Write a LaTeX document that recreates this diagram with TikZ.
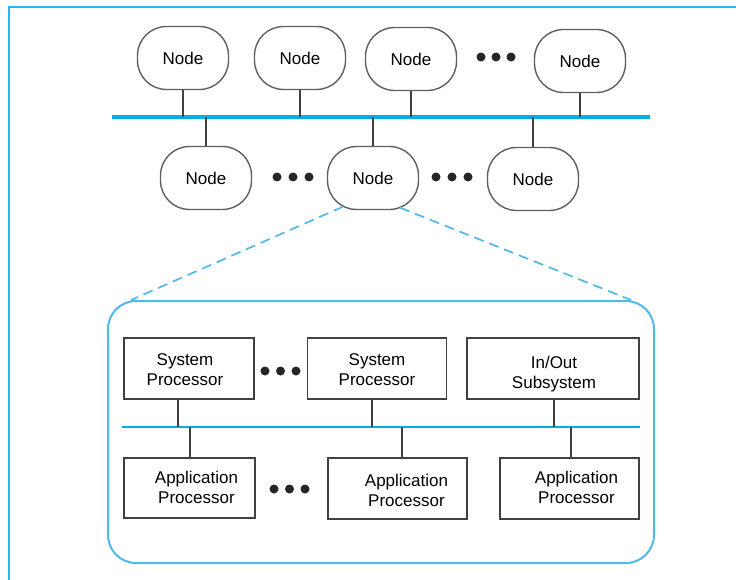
\documentclass[tikz,border=0pt]{standalone}
\usepackage{fontspec}
\setmainfont{Liberation Sans}
\usetikzlibrary{calc}
\definecolor{busblue}{RGB}{0,174,239}
\definecolor{frameblue}{RGB}{40,182,240}
\definecolor{lightblue}{RGB}{80,185,236}
\definecolor{nodegray}{RGB}{95,95,95}
\definecolor{boxgray}{RGB}{65,65,65}
\tikzset{
  netnode/.style={draw=nodegray, line width=1.4pt, rounded corners=29pt,
    minimum width=91pt, minimum height=63pt, inner sep=0pt, fill=white,
    font=\fontsize{17}{20}\selectfont},
  procbox/.style={draw=boxgray, line width=1.5pt, inner sep=0pt, fill=white},
  boxtxt/.style={font=\fontsize{17}{20}\selectfont, align=center, inner sep=0pt},
  dotnode/.style={circle, fill=black!85, minimum size=9pt, inner sep=0pt},
  link/.style={draw=boxgray, line width=1.6pt},
  mainbus/.style={draw=busblue, line width=3.4pt},
  innerbus/.style={draw=busblue, line width=2pt},
  framestyle/.style={draw=frameblue, line width=2pt},
  zoomline/.style={draw=lightblue, line width=1.7pt, dash pattern=on 10pt off 6pt},
  zoombox/.style={draw=lightblue, line width=2pt, rounded corners=28pt, inner sep=0pt}
}
\begin{document}
\begin{tikzpicture}[x=1pt,y=-1pt]
\useasboundingbox (0,0) rectangle (736,580);
% outer frame (top and left edges)
\coordinate (fc) at (9,7);
\draw[framestyle] (9,581) -- (fc) -- (737,7);

% main bus
\coordinate (busL) at (112,117);
\coordinate (busR) at (650,117);
\draw[mainbus] (busL) -- (busR);

% top row of nodes
\node[netnode] (n1) at (183,58) {Node};
\node[netnode] (n2) at (300,58) {Node};
\node[netnode] (n3) at (411,59) {Node};
\node[netnode] (n4) at (580,61) {Node};
\node[dotnode] (t1) at (481,57) {};
\node[dotnode] (t2) at (496,57) {};
\node[dotnode] (t3) at (511,57) {};

% bottom row of nodes
\node[netnode] (n5) at (206,178) {Node};
\node[netnode] (n6) at (373,178) {Node};
\node[netnode] (n7) at (533,179) {Node};
\node[dotnode] (m1) at (277,177) {};
\node[dotnode] (m2) at (293,177) {};
\node[dotnode] (m3) at (309,177) {};
\node[dotnode] (m4) at (436,177) {};
\node[dotnode] (m5) at (452,177) {};
\node[dotnode] (m6) at (468,177) {};

% node-to-bus links
\foreach \n in {n1,n2,n3,n4}{
  \draw[link] (\n.south) -- (\n.south |- busL);
}
\foreach \n in {n5,n6,n7}{
  \draw[link] (busL -| \n.north) -- (\n.north);
}

% zoomed box
\node[zoombox, minimum width=546pt, minimum height=262pt] (zoom) at (381,432) {};
\draw[zoomline] ([shift={(-30,-3.5)}]n6.south) -- ([xshift=24pt]zoom.north west);
\draw[zoomline] ([shift={(27,-2.5)}]n6.south) -- ([xshift=-24pt]zoom.north east);

% processors
\node[procbox, minimum width=130pt, minimum height=61pt,
  label={[boxtxt, shift={(-4pt,-1.5pt)}]center:{System\\Processor}}] (sp1) at (189,368.5) {};
\node[procbox, minimum width=139pt, minimum height=61pt,
  label={[boxtxt, shift={(0pt,-1.5pt)}]center:{System\\Processor}}] (sp2) at (377,368.5) {};
\node[procbox, minimum width=172pt, minimum height=61pt,
  label={[boxtxt, shift={(1pt,-5.5pt)}]center:{In/Out\\Subsystem}}] (io) at (553,368.5) {};
\node[procbox, minimum width=131pt, minimum height=60pt,
  label={[boxtxt, shift={(7pt,1pt)}]center:{Application\\Processor}}] (ap1) at (189.5,488) {};
\node[procbox, minimum width=139pt, minimum height=61pt,
  label={[boxtxt, shift={(9pt,-2pt)}]center:{Application\\Processor}}] (ap2) at (397.5,488.5) {};
\node[procbox, minimum width=139pt, minimum height=61pt,
  label={[boxtxt, shift={(7pt,1.5pt)}]center:{Application\\Processor}}] (ap3) at (569.5,488.5) {};
\node[dotnode] (s1) at (265,371) {};
\node[dotnode] (s2) at (280.5,371) {};
\node[dotnode] (s3) at (296,371) {};
\node[dotnode] (a1) at (274,489) {};
\node[dotnode] (a2) at (289.5,489) {};
\node[dotnode] (a3) at (305,489) {};

% inner bus
\coordinate (ibL) at (122,427);
\coordinate (ibR) at (640,427);
\draw[innerbus] (ibL) -- (ibR);

% processor links
\draw[link] ([xshift=-11pt]sp1.south) -- ([xshift=-11pt]sp1.south |- ibL);
\draw[link] ([xshift=-5pt]sp2.south) -- ([xshift=-5pt]sp2.south |- ibL);
\draw[link] ([xshift=1pt]io.south) -- ([xshift=1pt]io.south |- ibL);
\draw[link] ([xshift=0.5pt]ap1.north |- ibL) -- ([xshift=0.5pt]ap1.north);
\draw[link] ([xshift=4.5pt]ap2.north |- ibL) -- ([xshift=4.5pt]ap2.north);
\draw[link] ([xshift=1.5pt]ap3.north |- ibL) -- ([xshift=1.5pt]ap3.north);
\end{tikzpicture}
\end{document}
